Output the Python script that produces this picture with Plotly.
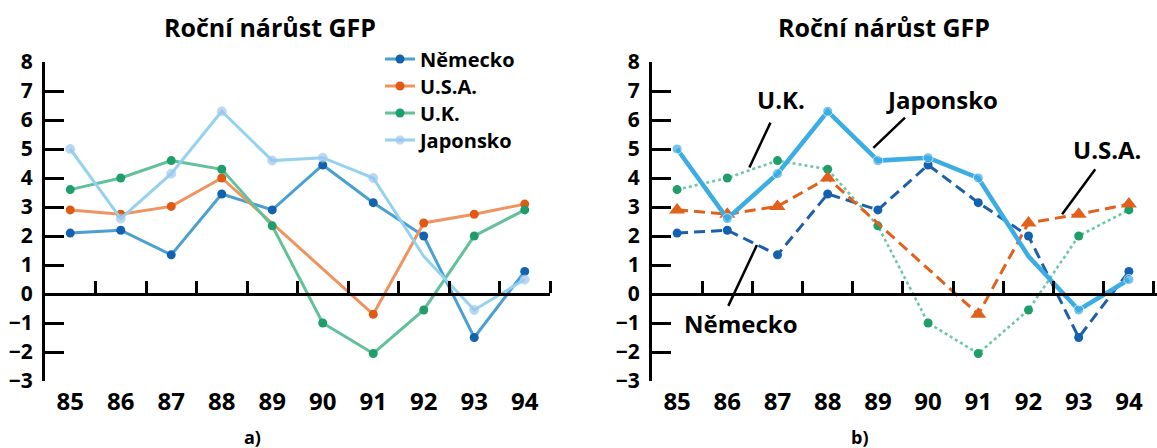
import plotly.graph_objects as go

years = [85, 86, 87, 88, 89, 90, 91, 92, 93, 94]
year_labels = [str(y) for y in years]
half_ticks = [y + 0.5 for y in years]
y_ticks = list(range(-3, 9))

nemecko = [2.1, 2.2, 1.35, 3.45, 2.9, 4.45, 3.15, 2.0, -1.5, 0.78]
usa = [2.9, 2.75, 3.02, 4.0, None, None, -0.7, 2.45, 2.75, 3.1]
uk = [3.6, 4.0, 4.6, 4.3, 2.35, -1.0, -2.05, -0.55, 2.0, 2.9]
japonsko = [5.0, 2.6, 4.15, 6.3, 4.6, 4.7, 4.0, 1.3, -0.55, 0.5]
japonsko_marked = [True, True, True, True, True, True, True, False, True, True]

FONT = "Open Sans"
fig = go.Figure()

# ---- panel a ----
left_styles = [
    ("Německo", nemecko, "#4aa0d2", "#1262b0", "legend"),
    ("U.S.A.", usa, "#ef9460", "#e05a14", "legend2"),
    ("U.K.", uk, "#62c09a", "#1f9e6a", "legend3"),
    ("Japonsko", japonsko, "#94d2f0", "#a2c4ec", "legend4"),
]
for name, vals, lc, mc, lg in left_styles:
    sizes = [9 if m else 0 for m in japonsko_marked] if name == "Japonsko" else 9
    fig.add_trace(go.Scatter(
        x=years, y=vals, name=name, mode="lines+markers", connectgaps=True,
        line=dict(color=lc, width=3), marker=dict(color=mc, size=sizes),
        xaxis="x", yaxis="y", showlegend=True, legend=lg))

# ---- panel b ----
fig.add_trace(go.Scatter(
    x=years, y=nemecko, mode="lines+markers", line=dict(color="#1d5fa8", width=3, dash="11px,6px"),
    marker=dict(color="#1262b0", size=9), xaxis="x2", yaxis="y2", showlegend=False))
fig.add_trace(go.Scatter(
    x=years, y=uk, mode="lines+markers", line=dict(color="#6cc8a0", width=2.6, dash="dot"),
    marker=dict(color="#1f9e6a", size=9), xaxis="x2", yaxis="y2", showlegend=False))
fig.add_trace(go.Scatter(
    x=years, y=usa, mode="lines+markers", connectgaps=True,
    line=dict(color="#e0601c", width=3, dash="11px,6px"),
    marker=dict(color="#e0601c", size=14, symbol="triangle-up"), xaxis="x2", yaxis="y2", showlegend=False))
fig.add_trace(go.Scatter(
    x=years, y=japonsko, mode="lines+markers", line=dict(color="#3cace4", width=4.5),
    marker=dict(color="#3cace4", size=[10 if m else 0 for m in japonsko_marked]),
    xaxis="x2", yaxis="y2", showlegend=False))

ydom = [1 - 381 / 448, 1 - 62 / 448]
zero_pos = ydom[0] + 3 / 11 * (ydom[1] - ydom[0])
dom_a = [45 / 1157, 550 / 1157]
dom_b = [652 / 1157, 1.0]
rng_a = [84.5, 94.5]
rng_b = [84.5, 94.56]

tickfont_x = dict(family=FONT, size=24, color="black", weight="bold")
tickfont_y = dict(family=FONT, size=21, color="black", weight="bold")

def xax(dom, rng):
    return dict(domain=dom, range=rng, anchor="free", position=zero_pos, automargin=False,
                tickmode="array", tickvals=years, ticktext=year_labels, ticks="",
                showline=True, linewidth=3, linecolor="black",
                showgrid=False, zeroline=False, tickfont=tickfont_x, ticklabelstandoff=85,
                minor=dict(tickmode="array", tickvals=half_ticks, ticks="inside", ticklen=12,
                           tickwidth=3, tickcolor="black", showgrid=False))

def yax(anchor):
    return dict(domain=ydom, range=[-3, 8], anchor=anchor, automargin=False,
                tickmode="array", tickvals=y_ticks,
                ticks="inside", ticklen=19, tickwidth=3, tickcolor="black", showline=True,
                linewidth=3, linecolor="black", showgrid=False, zeroline=False,
                tickfont=tickfont_y, ticklabelstandoff=5)

legend_font = dict(family=FONT, size=20, color="black", weight="bold")
legend_rows = {"legend": 59, "legend2": 86, "legend3": 113, "legend4": 140}
legends = {k: dict(x=380 / 1157, y=1 - v / 448, xanchor="left", yanchor="middle",
                   bgcolor="rgba(0,0,0,0)", font=legend_font, borderwidth=0)
           for k, v in legend_rows.items()}

fig.update_layout(
    template="none",
    width=1157, height=448, margin=dict(l=0, r=0, t=0, b=0, autoexpand=False),
    paper_bgcolor="white", plot_bgcolor="rgba(0,0,0,0)",
    xaxis=xax(dom_a, rng_a), yaxis=yax("x"),
    xaxis2=xax(dom_b, rng_b), yaxis2=yax("x2"),
    showlegend=True,
    **legends,
)

title_font = dict(family=FONT, size=25, color="black", weight="bold")
ann = []
for xc in (270, 884):
    ann.append(dict(text="Roční nárůst GFP", x=xc / 1157, y=1 - 27 / 448, xref="paper", yref="paper",
                    showarrow=False, font=title_font, xanchor="center", yanchor="middle"))
for txt, xc in (("a)", 252), ("b)", 860)):
    ann.append(dict(text=txt, x=xc / 1157, y=1 - 437 / 448, xref="paper", yref="paper",
                    showarrow=False, font=dict(family=FONT, size=18, color="black", weight="bold"),
                    xanchor="center", yanchor="middle"))

lab_font = dict(family=FONT, size=24, color="black", weight="bold")
labels_b = [("U.K.", 87.06, 6.72), ("Japonsko", 90.27, 6.72), ("U.S.A.", 93.56, 5.0), ("Německo", 86.28, -1.0)]
for txt, xx, yy in labels_b:
    ann.append(dict(text=txt, x=xx, y=yy, xref="x2", yref="y2", showarrow=False, font=lab_font,
                    xanchor="center", yanchor="middle"))
fig.update_layout(annotations=ann)

leaders = [((86.86, 5.91), (86.44, 4.36)), ((89.54, 6.08), (88.91, 5.04)),
           ((93.33, 4.30), (92.67, 2.75)), ((86.02, -0.41), (86.59, 1.69))]
for (x0, y0), (x1, y1) in leaders:
    fig.add_shape(type="line", x0=x0, y0=y0, x1=x1, y1=y1, xref="x2", yref="y2",
                  line=dict(color="black", width=2.5))

fig.write_html("out.html", config={"displayModeBar": False},
               post_script="document.body.style.margin='0';document.body.style.padding='0';")
